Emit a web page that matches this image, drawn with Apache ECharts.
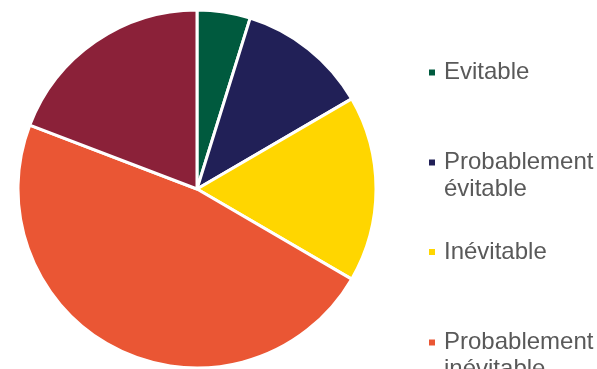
<!DOCTYPE html>
<html>
<head>
<meta charset="utf-8">
<style>
  html, body { margin: 0; padding: 0; background: #ffffff; }
  #chart { width: 597px; height: 369px; }
</style>
<script src="https://cdn.jsdelivr.net/npm/echarts@6/dist/echarts.min.js"></script>
</head>
<body>
<div id="chart"></div>
<script>
// Share of cases by avoidability category (%)
const categories = [
  'Evitable',
  'Probablement\névitable',
  'Inévitable',
  'Probablement\ninévitable',
  'Non évaluable'
];
const values = [4.8, 11.8, 16.8, 47.4, 19.2];
const colors = ['#005A3E', '#212057', '#FFD600', '#EA5634', '#8B2139'];

// vertical centre of each legend marker (px from top)
const legendCentres = [72.5, 162.5, 252, 342.5, 432];

const LINE = 27;
const chart = echarts.init(document.getElementById('chart'), null, { renderer: 'canvas' });

const legends = categories.map((name, i) => {
  const lines = name.split('\n');
  // multi-line entries get an empty line on top so the marker sits beside the first line
  const shown = lines.length > 1 ? ['', ...lines] : lines;
  const blockHeight = shown.length * LINE;
  return {
    show: true,
    orient: 'vertical',
    left: 427,
    top: legendCentres[i] - blockHeight / 2,
    data: [name],
    icon: 'rect',
    itemWidth: 8,
    itemHeight: 8,
    itemGap: 0,
    padding: 0,
    selectedMode: false,
    formatter: () => shown.map(l => '{s|}' + l).join('\n'),
    textStyle: {
      fontFamily: 'Liberation Sans, Arial, sans-serif',
      fontSize: 24,
      color: '#595959',
      lineHeight: LINE,
      rich: {
        s: { width: 3, fontSize: 24, lineHeight: LINE }
      }
    }
  };
});

chart.setOption({
  animation: false,
  backgroundColor: '#ffffff',
  color: colors,
  legend: legends,
  series: [{
    type: 'pie',
    center: [197, 189],
    radius: [0, 179],
    startAngle: 90,
    clockwise: true,
    label: { show: false },
    labelLine: { show: false },
    emphasis: { disabled: true },
    itemStyle: { borderColor: '#ffffff', borderWidth: 3 },
    data: categories.map((name, i) => ({ name: name, value: values[i] }))
  }]
});
</script>
</body>
</html>
